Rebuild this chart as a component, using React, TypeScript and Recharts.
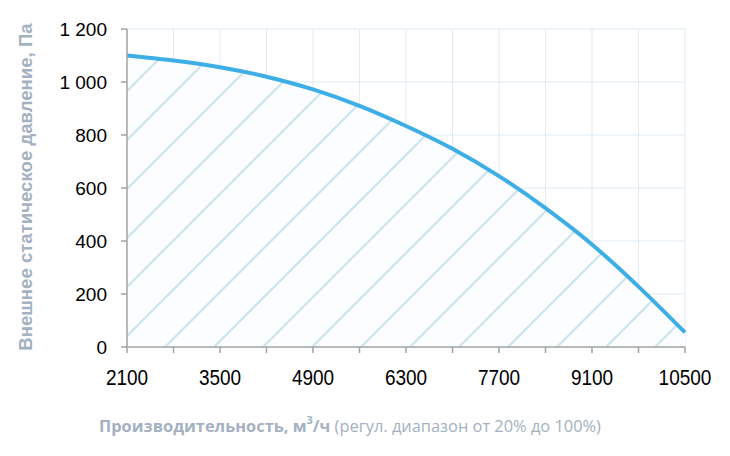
import {
  ComposedChart,
  Area,
  Line,
  XAxis,
  YAxis,
  CartesianGrid,
} from "recharts";

// air flow, m3/h
const flow = [2100, 2800, 3500, 4200, 4900, 5600, 6300, 7000, 7700, 8400, 9100, 9800, 10500];
// external static pressure, Pa
const pressure = [1100, 1081, 1056, 1020, 972, 910, 834, 748, 645, 524, 387, 228, 55];

const xTicks = [2100, 2800, 3500, 4200, 4900, 5600, 6300, 7000, 7700, 8400, 9100, 9800, 10500];
const xLabelled = [2100, 3500, 4900, 6300, 7700, 9100, 10500];
const yTicks = [0, 200, 400, 600, 800, 1000, 1200];

const yTitle = "Внешнее статическое давление, Па";
const xTitleBold = "Производительность, м";
const xTitleRange = " (регул. диапазон от 20% до 100%)";

const data = flow.map((f, i) => ({ flow: f, pressure: pressure[i] }));

const LABEL_COLOR = "#a3b1c2";
const AXIS_COLOR = "#a3a3a3";
const TICK_FONT = "Liberation Sans, Arial, sans-serif";

const fmtY = (v: number) => (v >= 1000 ? `${Math.floor(v / 1000)} ${String(v % 1000).padStart(3, "0")}` : String(v));

// x labels in the source are a touch taller than wide, so stretch them vertically
function XTick({ x, y, payload }: any) {
  if (!xLabelled.includes(payload.value)) return null;
  return (
    <text
      transform={`translate(${x},${y}) scale(1,1.17)`}
      textAnchor="middle"
      dy="0.71em"
      fill="#000"
      fontSize={19}
      fontFamily={TICK_FONT}
    >
      {payload.value}
    </text>
  );
}

export default function App() {
  return (
    <div style={{ position: "absolute", left: 0, top: 0, width: 730, height: 456, background: "#fff" }}>
      <ComposedChart
        width={730}
        height={456}
        data={data}
        margin={{ top: 29, right: 45, bottom: 0, left: 0 }}
      >
        <defs>
          <pattern id="hatch" patternUnits="userSpaceOnUse" x={22} y={0} width={49} height={49}>
            <rect width={49} height={49} fill="#fcfdfe" />
            <path
              d="M-2,2 L2,-2 M0,49 L49,0 M47,51 L51,47"
              stroke="#cde5ef"
              strokeWidth={2.2}
            />
          </pattern>
        </defs>
        <CartesianGrid stroke="#e0eaf4" strokeWidth={1} />
        <XAxis
          dataKey="flow"
          type="number"
          domain={[2100, 10500]}
          ticks={xTicks}
          interval={0}
          height={109}
          stroke={AXIS_COLOR}
          strokeWidth={1.5}
          tickSize={6}
          tickMargin={16}
          tick={<XTick />}
        />
        <YAxis
          type="number"
          domain={[0, 1200]}
          ticks={yTicks}
          interval={0}
          tickFormatter={fmtY}
          width={127}
          stroke={AXIS_COLOR}
          strokeWidth={1.5}
          tickSize={6}
          tickMargin={14}
          tick={{ fill: "#000", fontSize: 19, fontFamily: TICK_FONT }}
        />
        <Area
          type="monotone"
          dataKey="pressure"
          stroke="none"
          fill="url(#hatch)"
          fillOpacity={1}
          isAnimationActive={false}
        />
        <Line
          type="monotone"
          dataKey="pressure"
          stroke="#3daee6"
          strokeWidth={4}
          dot={false}
          activeDot={false}
          isAnimationActive={false}
        />
      </ComposedChart>
      <svg
        width={730}
        height={456}
        style={{ position: "absolute", left: 0, top: 0, pointerEvents: "none" }}
      >
        <text
          transform="translate(25,187) rotate(-90)"
          textAnchor="middle"
          dominantBaseline="central"
          fill={LABEL_COLOR}
          fontFamily="Liberation Sans, Arial, sans-serif"
          fontWeight="bold"
          fontSize={18.6}
        >
          {yTitle}
        </text>
        <text
          x={350}
          y={432}
          textAnchor="middle"
          fill={LABEL_COLOR}
          fontFamily="Open Sans, sans-serif"
          fontSize={16.4}
        >
          <tspan fontWeight="bold">{xTitleBold}</tspan>
          <tspan fontWeight="bold" fontSize={11} dy={-8}>3</tspan>
          <tspan fontWeight="bold" dy={8}>/ч</tspan>
          <tspan>{xTitleRange}</tspan>
        </text>
      </svg>
    </div>
  );
}
